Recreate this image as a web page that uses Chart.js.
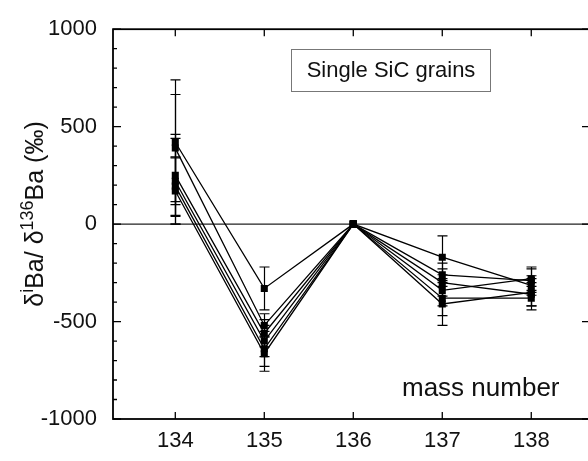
<!DOCTYPE html>
<html>
<head>
<meta charset="utf-8">
<script src="https://cdn.jsdelivr.net/npm/chart.js@4/dist/chart.umd.min.js"></script>
<style>
html,body{margin:0;padding:0;background:#fff;overflow:hidden}
#wrap{width:600px;height:461px}
</style>
</head>
<body>
<div id="wrap"><canvas id="chart" width="600" height="461"></canvas></div>
<script>
// mass numbers on the x axis
var massNumbers = [134, 135, 136, 137, 138];
var yTicks = [-1000, -500, 0, 500, 1000];

// delta values (permil) per grain
var grain1 = [420, -330, 0, -170, -315];
var grain2 = [390, -520, 0, -260, -290];
var grain3 = [250, -560, 0, -300, -360];
var grain4 = [220, -600, 0, -340, -280];
var grain5 = [195, -640, 0, -380, -380];
var grain6 = [170, -665, 0, -410, -350];

// 1 sigma errors
var err1 = [320, 110, 0, 110, 50];
var err2 = [275, 60, 0, 60, 60];
var err3 = [210, 70, 0, 70, 60];
var err4 = [220, 80, 0, 80, 60];
var err5 = [150, 90, 0, 90, 60];
var err6 = [170, 90, 0, 110, 70];

var grains = [grain1, grain2, grain3, grain4, grain5, grain6];
var errs = [err1, err2, err3, err4, err5, err6];

var FONT = "'Liberation Sans', Arial, sans-serif";

var datasets = grains.map(function(g, k) {
  return {
    label: 'grain ' + (k + 1),
    data: g.map(function(v, i) { return {x: massNumbers[i], y: v}; }),
    errors: errs[k],
    borderColor: '#000',
    backgroundColor: '#000',
    borderWidth: 1.3,
    pointStyle: 'rect',
    pointRadius: 5,
    pointBorderWidth: 0,
    fill: false,
    tension: 0
  };
});

var decor = {
  id: 'decor',
  beforeDatasetsDraw: function(chart) {
    var ctx = chart.ctx, a = chart.chartArea;
    var xs = chart.scales.x, ys = chart.scales.y;
    ctx.save();
    // zero line
    ctx.strokeStyle = '#222';
    ctx.lineWidth = 1.4;
    ctx.beginPath();
    ctx.moveTo(a.left, ys.getPixelForValue(0));
    ctx.lineTo(a.right, ys.getPixelForValue(0));
    ctx.stroke();
    // error bars
    ctx.strokeStyle = '#000';
    ctx.lineWidth = 1.2;
    chart.data.datasets.forEach(function(ds) {
      ds.data.forEach(function(p, i) {
        var e = ds.errors[i];
        if (!e) return;
        var px = Math.round(xs.getPixelForValue(p.x)) + 0.5;
        var y1 = ys.getPixelForValue(p.y + e), y2 = ys.getPixelForValue(p.y - e);
        ctx.beginPath();
        ctx.moveTo(px, y1); ctx.lineTo(px, y2);
        ctx.moveTo(px - 5, y1); ctx.lineTo(px + 5, y1);
        ctx.moveTo(px - 5, y2); ctx.lineTo(px + 5, y2);
        ctx.stroke();
      });
    });
    ctx.restore();
  },
  afterDraw: function(chart) {
    var ctx = chart.ctx, a = chart.chartArea;
    var xs = chart.scales.x, ys = chart.scales.y;
    ctx.save();
    ctx.strokeStyle = '#000';
    ctx.lineWidth = 1.8;
    ctx.strokeRect(a.left, a.top, a.right - a.left, a.bottom - a.top);
    ctx.lineWidth = 1.3;
    ctx.beginPath();
    for (var v = -1000; v <= 1000; v += 100) {
      var py = ys.getPixelForValue(v);
      var len = (v % 500 === 0) ? 8 : 4;
      ctx.moveTo(a.left, py); ctx.lineTo(a.left + len, py);
      if (v % 500 === 0) { ctx.moveTo(a.right, py); ctx.lineTo(a.right - len, py); }
    }
    massNumbers.forEach(function(m) {
      var px = xs.getPixelForValue(m);
      ctx.moveTo(px, a.bottom); ctx.lineTo(px, a.bottom - 7);
      ctx.moveTo(px, a.top); ctx.lineTo(px, a.top + 7);
    });
    ctx.stroke();

    // label box
    ctx.fillStyle = '#fff';
    ctx.fillRect(291, 49, 199, 42);
    ctx.strokeStyle = '#777';
    ctx.lineWidth = 1;
    ctx.strokeRect(291.5, 49.5, 199, 42);
    ctx.fillStyle = '#111';
    ctx.font = '22px ' + FONT;
    ctx.textAlign = 'center';
    ctx.textBaseline = 'middle';
    ctx.fillText('Single SiC grains', 391, 71);

    // x title inside plot
    ctx.font = '26px ' + FONT;
    ctx.textAlign = 'left';
    ctx.textBaseline = 'alphabetic';
    ctx.fillText('mass number', 402, 396);

    // y title with superscripts
    ctx.translate(43, 214);
    ctx.rotate(-Math.PI / 2);
    var parts = [
      ['\u03B4', 0], ['i', 1], ['Ba/ \u03B4', 0], ['136', 1], ['Ba (\u2030)', 0]
    ];
    var big = '25px ' + FONT, small = '18px ' + FONT;
    var total = 0;
    parts.forEach(function(p) { ctx.font = p[1] ? small : big; total += ctx.measureText(p[0]).width; });
    var x = -total / 2;
    parts.forEach(function(p) {
      ctx.font = p[1] ? small : big;
      ctx.fillText(p[0], x, p[1] ? -10 : 0);
      x += ctx.measureText(p[0]).width;
    });
    ctx.restore();
  }
};

new Chart(document.getElementById('chart'), {
  type: 'line',
  data: {datasets: datasets},
  options: {
    responsive: false,
    animation: false,
    devicePixelRatio: 1,
    layout: {padding: {left: 0, top: 26, right: 10, bottom: 0}},
    plugins: {legend: {display: false}, tooltip: {enabled: false}},
    scales: {
      x: {
        type: 'linear',
        min: 133.3,
        max: 138.66,
        afterBuildTicks: function(s) { s.ticks = massNumbers.map(function(v) { return {value: v}; }); },
        afterFit: function(s) { s.height = 42; },
        grid: {display: false, drawTicks: false},
        border: {display: false},
        ticks: {color: '#111', font: {family: FONT, size: 22}, padding: 9, maxRotation: 0,
          callback: function(v) { return String(v); }}
      },
      y: {
        min: -1000,
        max: 1000,
        afterBuildTicks: function(s) { s.ticks = yTicks.map(function(v) { return {value: v}; }); },
        afterFit: function(s) { s.width = 113; },
        grid: {display: false, drawTicks: false},
        border: {display: false},
        ticks: {color: '#111', font: {family: FONT, size: 22}, padding: 16,
          callback: function(v) { return String(v); }}
      }
    }
  },
  plugins: [decor]
});
</script>
</body>
</html>
